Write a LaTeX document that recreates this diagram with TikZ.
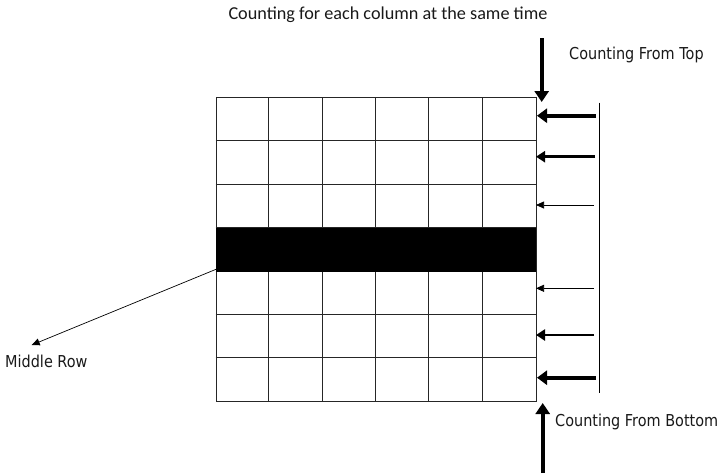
\documentclass[tikz,border=0pt]{standalone}
\usepackage{fontspec}
\setmainfont{DejaVu Sans}[FakeStretch=0.88]
\newfontfamily\titlefont{Carlito}
\usetikzlibrary{arrows.meta,calc}
\begin{document}
\begin{tikzpicture}[x=1pt,y=-1pt,
  lbl/.style={font=\fontsize{16.4}{19}\selectfont, inner sep=0pt, text=black!90},
  ttl/.style={font=\titlefont\fontsize{18.2}{21}\selectfont, inner sep=0pt, text=black!90},
  gridline/.style={draw=black!85, line width=0.9pt},
  thickarr/.style={line width=3.6pt, -{Triangle[length=10pt,width=14pt]}},
  medarr/.style={line width=2.6pt, -{Triangle[length=9pt,width=11pt]}},
  thinarr/.style={line width=0.7pt, -{Triangle[length=8pt,width=7pt]}},
  vertarr/.style={line width=3.6pt, -{Triangle[length=11pt,width=14pt]}},
]
\useasboundingbox (0,0) rectangle (723,475);
% grid
\node[gridline, minimum width=320pt, minimum height=304pt, inner sep=0pt] (grid) at (376,249.7) {};
\foreach \i in {1,...,5} \draw[gridline] ($(grid.north west)+(53.33*\i,0)$) -- ($(grid.south west)+(53.33*\i,0)$);
\foreach \j in {1,...,6} \draw[gridline] ($(grid.north west)+(0,43.43*\j)$) -- ($(grid.north east)+(0,43.43*\j)$);
\fill[black] (215.6,228.0) rectangle (536.4,271.6);
% right bar
\coordinate (bt) at (599.3,102.7);
\coordinate (bb) at (599.3,393.3);
\draw[line width=0.9pt] (bt) -- (bb);
% horizontal arrows
\coordinate (a1s) at (596,115.7); \coordinate (a1e) at (537,115.7);
\coordinate (a2s) at (595,156.7); \coordinate (a2e) at (536,156.7);
\coordinate (a3s) at (594,205.0); \coordinate (a3e) at (536,205.0);
\coordinate (a5s) at (594,288.3); \coordinate (a5e) at (536,288.3);
\coordinate (a6s) at (594,335.0); \coordinate (a6e) at (536,335.0);
\coordinate (a7s) at (596,377.7); \coordinate (a7e) at (537,377.7);
\draw[thickarr] (a1s) -- (a1e);
\draw[medarr] (a2s) -- (a2e);
\draw[thinarr] (a3s) -- (a3e);
\draw[thinarr] (a5s) -- (a5e);
\draw[medarr] (a6s) -- (a6e);
\draw[thickarr] (a7s) -- (a7e);
% vertical arrows
\coordinate (vts) at (541.7,38); \coordinate (vte) at (541.7,102);
\coordinate (vbs) at (542.7,473); \coordinate (vbe) at (542.7,403);
\draw[vertarr] (vts) -- (vte);
\draw[vertarr] (vbs) -- (vbe);
% labels
\node[ttl] (title) at (388,15) {Counting for each column at the same time};
\node[lbl, anchor=west] (top) at (569,55) {Counting From Top};
\node[lbl, anchor=west] (bot) at (555,421.7) {Counting From Bottom};
\node[lbl, anchor=west] (mid) at (5,361.7) {Middle Row};
% middle row pointer
\coordinate (mp) at (216,269.3);
\coordinate (mt) at (31.7,345);
\draw[thinarr] (mp) -- (mt);
\end{tikzpicture}
\end{document}
